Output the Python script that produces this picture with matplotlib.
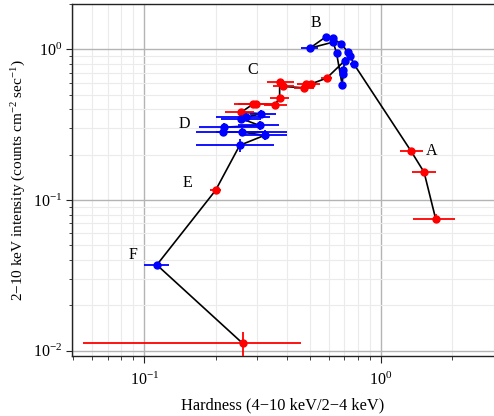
import numpy as np
import matplotlib
matplotlib.use("Agg")
import matplotlib.pyplot as plt
from matplotlib.ticker import LogLocator, NullFormatter

plt.rcParams['font.family'] = ['Liberation Serif', 'DejaVu Serif']
plt.rcParams['mathtext.fontset'] = 'custom'
plt.rcParams['mathtext.rm'] = 'Liberation Serif'
plt.rcParams['mathtext.it'] = 'Liberation Serif:italic'

# track in time order: hardness, intensity, x bounds (lo, hi), y bounds (lo, hi), colour
hard = [1.70, 1.52, 1.34,
        0.770, 0.739, 0.727, 0.677, 0.624, 0.583, 0.500, 0.628, 0.649,
        0.685, 0.692, 0.692, 0.704,
        0.589, 0.508, 0.481, 0.472, 0.386, 0.373, 0.373, 0.356, 0.297, 0.287, 0.257,
        0.312, 0.270, 0.257, 0.307, 0.218, 0.215, 0.258, 0.322, 0.253,
        0.200, 0.113, 0.260]
inten = [0.0753, 0.153, 0.211,
         0.795, 0.912, 0.960, 1.09, 1.19, 1.21, 1.02, 1.12, 0.945,
         0.583, 0.690, 0.726, 0.845,
         0.645, 0.592, 0.586, 0.557, 0.568, 0.607, 0.478, 0.430, 0.436, 0.432, 0.384,
         0.374, 0.356, 0.347, 0.313, 0.305, 0.283, 0.283, 0.269, 0.231,
         0.116, 0.0371, 0.0112]
hard_lo = [1.36, 1.35, 1.20,
           0.74, 0.72, 0.71, 0.66, 0.61, 0.57, 0.46, 0.61, 0.63,
           0.67, 0.68, 0.68, 0.69,
           0.56, 0.47, 0.44, 0.43, 0.35, 0.33, 0.34, 0.32, 0.24, 0.25, 0.22,
           0.28, 0.20, 0.21, 0.25, 0.17, 0.165, 0.20, 0.26, 0.166,
           0.190, 0.0993, 0.0552]
hard_hi = [2.06, 1.70, 1.50,
           0.80, 0.76, 0.75, 0.70, 0.64, 0.60, 0.54, 0.65, 0.67,
           0.70, 0.71, 0.71, 0.72,
           0.62, 0.55, 0.53, 0.52, 0.43, 0.43, 0.41, 0.40, 0.35, 0.33, 0.29,
           0.36, 0.34, 0.31, 0.37, 0.30, 0.40, 0.33, 0.40, 0.352,
           0.210, 0.1276, 0.458]
inten_lo = [0.070, 0.145, 0.202,
            0.76, 0.87, 0.92, 1.05, 1.14, 1.16, 0.98, 1.07, 0.90,
            0.55, 0.65, 0.69, 0.80,
            0.62, 0.57, 0.56, 0.535, 0.545, 0.58, 0.455, 0.41, 0.415, 0.41, 0.365,
            0.355, 0.335, 0.325, 0.29, 0.285, 0.265, 0.265, 0.25, 0.210,
            0.110, 0.0355, 0.0090]
inten_hi = [0.081, 0.161, 0.220,
            0.83, 0.95, 1.00, 1.13, 1.24, 1.26, 1.06, 1.17, 0.99,
            0.62, 0.73, 0.76, 0.89,
            0.67, 0.615, 0.61, 0.58, 0.59, 0.635, 0.50, 0.45, 0.455, 0.455, 0.40,
            0.395, 0.38, 0.37, 0.335, 0.325, 0.30, 0.30, 0.29, 0.253,
            0.122, 0.0388, 0.01325]
colour = ['r', 'r', 'r',
          'b', 'b', 'b', 'b', 'b', 'b', 'b', 'b', 'b',
          'b', 'b', 'b', 'b',
          'r', 'r', 'r', 'r', 'r', 'r', 'r', 'r', 'r', 'r', 'r',
          'b', 'b', 'b', 'b', 'b', 'b', 'b', 'b', 'b',
          'r', 'b', 'r']

state_names = ['A', 'B', 'C', 'D', 'E', 'F']
state_x = [1.64, 0.531, 0.287, 0.148, 0.152, 0.0898]
state_y = [0.211, 1.51, 0.736, 0.318, 0.129, 0.043]

hard = np.array(hard)
inten = np.array(inten)
xerr = np.vstack([hard - np.array(hard_lo), np.array(hard_hi) - hard])
yerr = np.vstack([inten - np.array(inten_lo), np.array(inten_hi) - inten])
colour = np.array(colour)

fig = plt.figure(figsize=(4.94, 4.16), dpi=100)
ax = fig.add_axes([0.1457, 0.144, 0.8543, 0.846])

ax.plot(hard, inten, color='black', lw=1.2, zorder=2)
for c, col in [('r', '#ff0000'), ('b', '#0000ff')]:
    m = colour == c
    ax.errorbar(hard[m], inten[m], xerr=xerr[:, m], yerr=yerr[:, m], fmt='o',
                color=col, ms=5, elinewidth=1.3, capsize=0, zorder=3)

for name, tx, ty in zip(state_names, state_x, state_y):
    ax.text(tx, ty, name, fontsize=11.5, ha='center', va='center')

ax.set_xscale('log')
ax.set_yscale('log')
ax.set_xlim(0.0495, 3.0)
ax.set_ylim(0.0092, 2.0)

ax.xaxis.set_minor_locator(LogLocator(base=10, subs=np.arange(2, 10)))
ax.yaxis.set_minor_locator(LogLocator(base=10, subs=np.arange(2, 10)))
ax.xaxis.set_minor_formatter(NullFormatter())
ax.yaxis.set_minor_formatter(NullFormatter())

ax.grid(True, which='major', color='#b4b4b4', lw=1.0, zorder=0)
ax.grid(True, which='minor', color='#ebebeb', lw=0.8, zorder=0)
ax.set_axisbelow(True)

ax.spines['right'].set_visible(False)
for s in ['left', 'bottom', 'top']:
    ax.spines[s].set_color('#222222')
    ax.spines[s].set_linewidth(1.0)
ax.tick_params(which='both', direction='out', labelsize=11.5, color='#222222')
ax.tick_params(axis='x', which='major', length=5, pad=6)
ax.tick_params(axis='x', which='minor', length=3)
ax.tick_params(axis='y', which='major', length=4, pad=3)
ax.tick_params(axis='y', which='minor', length=2.5)

ax.set_xlabel('Hardness (4\u221210 keV/2\u22124 keV)', fontsize=11.8, labelpad=6)
ax.set_ylabel('2\u221210 keV intensity (counts cm$^{-2}$ sec$^{-1}$)', fontsize=11)
ax.yaxis.set_label_coords(-0.104, 0.5)

fig.savefig('out.png', dpi=100)
